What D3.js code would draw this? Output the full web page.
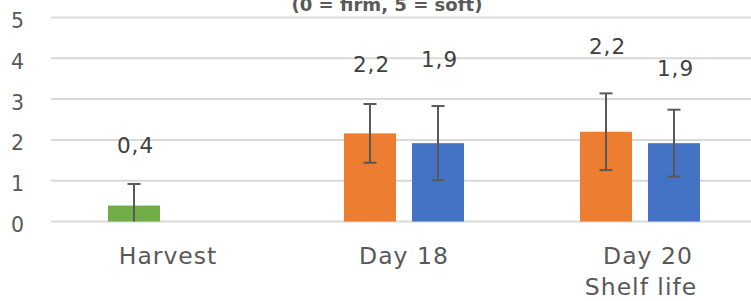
<!DOCTYPE html>
<html>
<head>
<meta charset="utf-8">
<script src="https://cdn.jsdelivr.net/npm/d3@7"></script>
<style>
  html, body { margin: 0; padding: 0; background: #fff; }
  svg { display: block; font-family: "DejaVu Sans", sans-serif; }
</style>
</head>
<body>
<svg id="chart" width="751" height="301"></svg>
<script>
// ---- data ----
const categories = ["Harvest", "Day 18", "Day 20\nShelf life"];
const seriesNames = ["A", "B"];
const valuesA = [0.39, 2.16, 2.20];
const errorsA = [0.53, 0.72, 0.94];
const valuesB = [null, 1.92, 1.92];
const errorsB = [null, 0.91, 0.82];
const yTicks = [0, 1, 2, 3, 4, 5];
const titleText = "(0 = firm, 5 = soft)";

// ---- layout / style (not data) ----
const colorsA = ["#70AD47", "#ED7D31", "#ED7D31"];
const colorB = "#4472C4";
const labelLiftA = [31, 32, 39];   // px above error-bar top
const labelLiftB = [null, 39, 34];

const svg = d3.select("#chart");
const W = 751, H = 301;
const x0 = d3.scaleBand().domain(categories).range([50, 758]).padding(0);
const x1 = d3.scaleBand().domain(seriesNames).range([0, x0.bandwidth()])
  .paddingInner(0.235).paddingOuter(0.853);
const y = d3.scaleLinear().domain([0, 5]).range([221.5, 17.5]);

// gridlines
svg.append("g").selectAll("line").data(yTicks).join("line")
  .attr("x1", 51).attr("x2", W)
  .attr("y1", d => y(d)).attr("y2", d => y(d))
  .attr("stroke", "#d9d9d9").attr("stroke-width", 2);

// y tick labels
svg.append("g").selectAll("text").data(yTicks).join("text")
  .attr("x", 17.5).attr("y", d => y(d) + 10.5)
  .attr("text-anchor", "middle")
  .attr("font-size", 20.5).attr("fill", "#595959")
  .text(d => d);

// title (partly clipped at the top, as in the reference)
svg.append("text")
  .attr("x", 387).attr("y", 11)
  .attr("text-anchor", "middle")
  .attr("font-size", 18).attr("font-weight", "bold")
  .attr("fill", "#595959")
  .attr("textLength", 191).attr("lengthAdjust", "spacingAndGlyphs")
  .text(titleText);

// assemble rows
const rows = [];
categories.forEach((c, i) => {
  if (valuesA[i] != null) rows.push({cat: c, s: "A", v: valuesA[i], e: errorsA[i], color: colorsA[i], lift: labelLiftA[i]});
  if (valuesB[i] != null) rows.push({cat: c, s: "B", v: valuesB[i], e: errorsB[i], color: colorB, lift: labelLiftB[i]});
});

const cx = d => x0(d.cat) + x1(d.s) + x1.bandwidth() / 2;

// bars
svg.append("g").selectAll("rect").data(rows).join("rect")
  .attr("x", d => x0(d.cat) + x1(d.s))
  .attr("width", x1.bandwidth())
  .attr("y", d => y(d.v))
  .attr("height", d => y(0) - y(d.v))
  .attr("fill", d => d.color);

// error bars
const eg = svg.append("g").attr("stroke", "#595959").attr("stroke-width", 2);
rows.forEach(d => {
  const top = d.v + d.e, bot = Math.max(0, d.v - d.e);
  const X = cx(d);
  eg.append("line").attr("x1", X).attr("x2", X).attr("y1", y(top)).attr("y2", y(bot));
  eg.append("line").attr("x1", X - 6.5).attr("x2", X + 6.5).attr("y1", y(top)).attr("y2", y(top));
  if (d.v - d.e > 0)
    eg.append("line").attr("x1", X - 6.5).attr("x2", X + 6.5).attr("y1", y(bot)).attr("y2", y(bot));
});

// value labels
const fmt = v => d3.format(".1f")(v).replace(".", ",");
svg.append("g").selectAll("text").data(rows).join("text")
  .attr("x", d => cx(d) + 1.5)
  .attr("y", d => y(d.v + d.e) - d.lift)
  .attr("text-anchor", "middle")
  .attr("font-size", 21.5).attr("fill", "#404040")
  .attr("letter-spacing", 1)
  .text(d => fmt(d.v));

// category labels
const cg = svg.append("g");
categories.forEach(c => {
  const lines = c.split("\n");
  const mid = x0(c) + x0.bandwidth() / 2;
  const t = cg.append("text")
    .attr("y", 264)
    .attr("text-anchor", "middle")
    .attr("font-size", 23.5).attr("fill", "#595959")
    .attr("letter-spacing", 1);
  lines.forEach((ln, k) => {
    t.append("tspan")
      .attr("x", mid + (lines.length > 1 ? (k === 0 ? 8 : 1) : 0))
      .attr("dy", k === 0 ? 0 : 31).text(ln);
  });
});
</script>
</body>
</html>
